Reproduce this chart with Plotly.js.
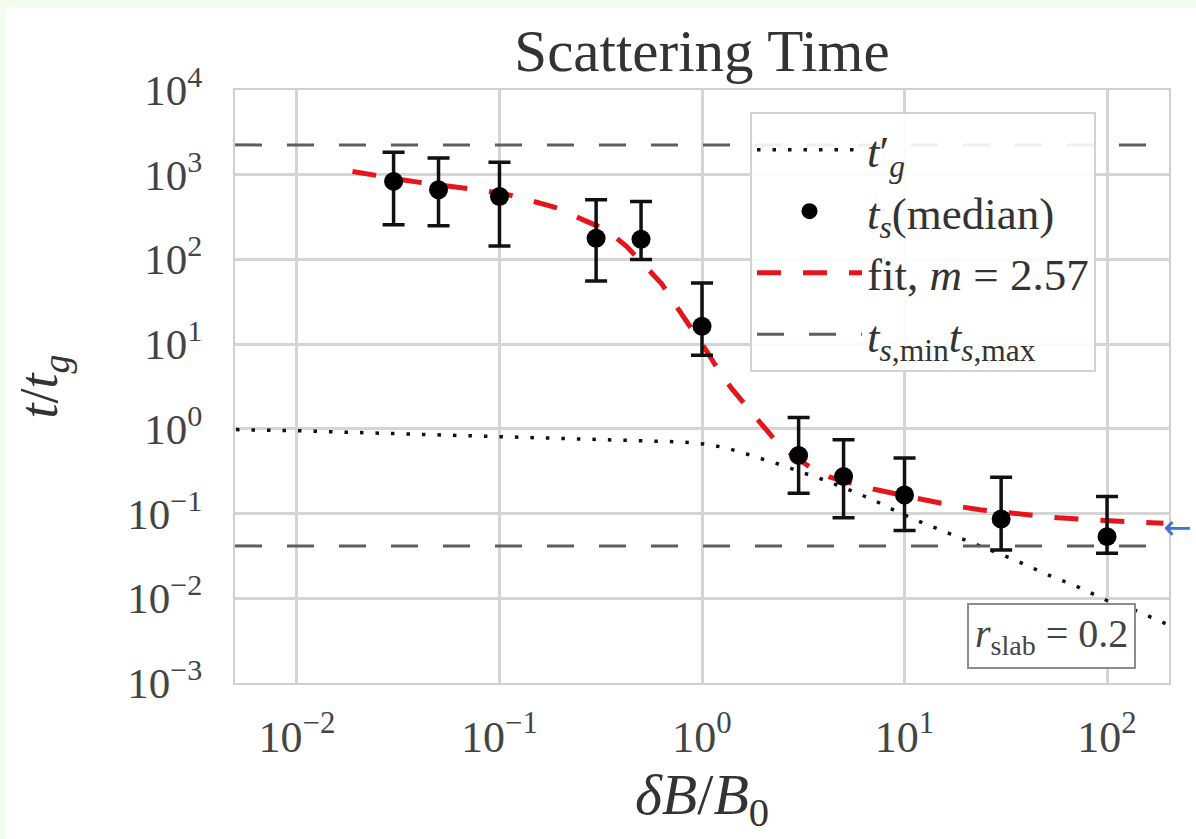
<!DOCTYPE html>
<html>
<head>
<meta charset="utf-8">
<script src="https://cdn.plot.ly/plotly-3.0.1.min.js"></script>
<style>html,body{margin:0;padding:0;background:#f2fdef;}</style>
</head>
<body>
<div id="chart" style="width:1196px;height:839px;"></div>
<script>
// ---- data ----
const deltaB = [0.03, 0.05, 0.1, 0.3, 0.5, 1, 3, 5, 10, 30, 100];
const tsMedian = [834, 664, 553, 178, 173, 16.3, 0.486, 0.274, 0.166, 0.0865, 0.0534];
const tsHigh = [1837, 1577, 1400, 506, 483, 52.7, 1.36, 0.745, 0.452, 0.269, 0.159];
const tsLow = [256, 249, 144, 55.7, 100, 7.4, 0.174, 0.089, 0.063, 0.0372, 0.034];

const fitX = [0.0188, 0.0256, 0.0329, 0.0454, 0.0615, 0.0817, 0.1127, 0.147, 0.195, 0.259, 0.338, 0.425, 0.513, 0.631, 0.75, 0.942, 1.054, 1.228, 1.40, 1.69, 1.97, 2.29, 2.72, 3.41, 4.29, 6.03, 7.0, 11.0, 12.9, 17.4, 23.6, 35.8, 41.7, 57.5, 135, 190];
const fitY = [1094, 955, 873, 780, 720, 655, 575, 483, 403, 293, 223, 142, 90, 52, 27.6, 12.5, 8.3, 4.6, 3.0, 1.75, 1.12, 0.74, 0.519, 0.353, 0.269, 0.211, 0.195, 0.155, 0.143, 0.124, 0.111, 0.0989, 0.0955, 0.089, 0.0794, 0.077];

const tgX = [0.005, 0.01, 0.03, 0.1, 0.3, 0.6, 0.8, 1.05, 1.3, 1.6, 2.0, 2.5, 3.2, 4.1, 5.5, 7.0, 9.0, 11.5, 16.8, 24.5, 35.7, 50, 73, 101, 126, 182, 195];
const tgY = [0.98, 0.95, 0.88, 0.81, 0.76, 0.72, 0.70, 0.66, 0.60, 0.52, 0.44, 0.37, 0.30, 0.245, 0.185, 0.145, 0.108, 0.083, 0.0575, 0.04, 0.0278, 0.0193, 0.0134, 0.0093, 0.0079, 0.0054, 0.0050];

const tsMax = 2250;
const tsMin = 0.0415;

const xRangeLog = [-2.306, 2.306];
const yRangeLog = [-3, 4];

const xTickVals = [0.01, 0.1, 1, 10, 100];
const xTickText = ['10<sup>−2</sup>', '10<sup>−1</sup>', '10<sup>0</sup>', '10<sup>1</sup>', '10<sup>2</sup>'];
const yTickVals = [0.001, 0.01, 0.1, 1, 10, 100, 1000, 10000];
const yTickText = ['10<sup>−3</sup>', '10<sup>−2</sup>', '10<sup>−1</sup>', '10<sup>0</sup>', '10<sup>1</sup>', '10<sup>2</sup>', '10<sup>3</sup>', '10<sup>4</sup>'];

const legendNames = [
  '<i>t</i>′<sub><i>g</i></sub>',
  '<i>t</i><sub><i>s</i></sub>(median)',
  'fit, <i>m</i> = 2.57',
  '<i>t</i><sub><i>s</i>,min</sub><i>t</i><sub><i>s</i>,max</sub>'
];

// ---- derived ----
const errPlus = tsHigh.map((h, i) => h - tsMedian[i]);
const errMinus = tsMedian.map((m, i) => m - tsLow[i]);
const xEdgeLo = Math.pow(10, xRangeLog[0]);
const xEdgeHi = Math.pow(10, xRangeLog[1]);

const SERIF = '"Liberation Serif", "DejaVu Serif", serif';

const traces = [
  {
    x: tgX, y: tgY, type: 'scatter', mode: 'lines', name: legendNames[0], legendrank: 1,
    line: {color: '#111', width: 3.5, dash: '3.5px,12px'}
  },
  {
    x: [xEdgeLo, xEdgeHi, null, xEdgeLo, xEdgeHi], y: [tsMax, tsMax, null, tsMin, tsMin],
    type: 'scatter', mode: 'lines', name: legendNames[3], legendrank: 4, connectgaps: false,
    line: {color: '#5e5e5e', width: 3, dash: '27px,25px'}
  },
  {
    x: fitX, y: fitY, type: 'scatter', mode: 'lines', name: legendNames[2], legendrank: 3,
    line: {color: '#e5151b', width: 5, dash: '24px,22px'}
  },
  {
    x: deltaB, y: tsMedian, type: 'scatter', mode: 'markers', name: legendNames[1], legendrank: 2,
    marker: {color: '#000', size: 19},
    error_y: {type: 'data', symmetric: false, array: errPlus, arrayminus: errMinus,
              color: '#111', thickness: 3.5, width: 11}
  }
];

const layout = {
  width: 1196, height: 839,
  margin: {l: 235, r: 27, t: 90, b: 156},
  paper_bgcolor: '#f2fdef',
  plot_bgcolor: '#ffffff',
  font: {family: SERIF, color: '#333', size: 40},
  title: {text: 'Scattering Time', x: 0.5, xref: 'paper', y: 1 - 50 / 839, yref: 'container',
          yanchor: 'middle', font: {family: SERIF, size: 59, color: '#333'}},
  xaxis: {
    type: 'log', range: xRangeLog,
    tickmode: 'array', tickvals: xTickVals, ticktext: xTickText,
    ticks: '', ticklabelstandoff: 14,
    tickfont: {family: SERIF, size: 44, color: '#444'},
    showgrid: true, gridcolor: '#d5d5d5', gridwidth: 3,
    showline: true, mirror: true, linecolor: '#d0d0d0', linewidth: 2,
    zeroline: false,
    title: {text: '<i>δB</i>/<i>B</i><sub>0</sub>', standoff: 10, font: {family: SERIF, size: 58, color: '#333'}}
  },
  yaxis: {
    type: 'log', range: yRangeLog,
    tickmode: 'array', tickvals: yTickVals, ticktext: yTickText,
    ticks: '', ticklabelstandoff: 22,
    tickfont: {family: SERIF, size: 43, color: '#444'},
    showgrid: true, gridcolor: '#d5d5d5', gridwidth: 3,
    showline: true, mirror: true, linecolor: '#d0d0d0', linewidth: 2,
    zeroline: false,
    title: {text: '<i>t</i>/<i>t</i><sub><i>g</i></sub>', standoff: 52, font: {family: SERIF, size: 54, color: '#333'}}
  },
  showlegend: true,
  legend: {
    x: 0.5514, y: 0.963, xanchor: 'left', yanchor: 'top',
    bgcolor: 'rgba(255,255,255,0.9)', bordercolor: '#d2d2d2', borderwidth: 2,
    font: {family: SERIF, size: 45, color: '#333'},
    tracegroupgap: 0, itemsizing: 'trace', itemwidth: 105
  },
  shapes: [
    {type: 'rect', xref: 'paper', yref: 'paper', layer: 'below',
     x0: (5 - 235) / 934, x1: (1196 - 235) / 934, y0: (683 - 839) / 593, y1: (683 - 7) / 593,
     fillcolor: '#ffffff', line: {width: 0}}
  ],
  annotations: [
    {text: '<i>r</i><sub>slab</sub> = 0.2', xref: 'paper', yref: 'paper', x: (1051 - 235) / 934, y: (683 - 636) / 593,
     showarrow: false, xanchor: 'center', yanchor: 'middle',
     font: {family: SERIF, size: 40, color: '#444'},
     bgcolor: '#ffffff', bordercolor: '#8c8c8c', borderwidth: 2, borderpad: 6},
    {text: '←', xref: 'paper', yref: 'paper', x: (1177 - 235) / 934, y: (683 - 527) / 593,
     showarrow: false, xanchor: 'center', yanchor: 'middle',
     font: {family: 'DejaVu Sans', size: 34, color: '#3c74d6'}}
  ]
};

Plotly.newPlot('chart', traces, layout, {displayModeBar: false, staticPlot: true});
</script>
</body>
</html>
